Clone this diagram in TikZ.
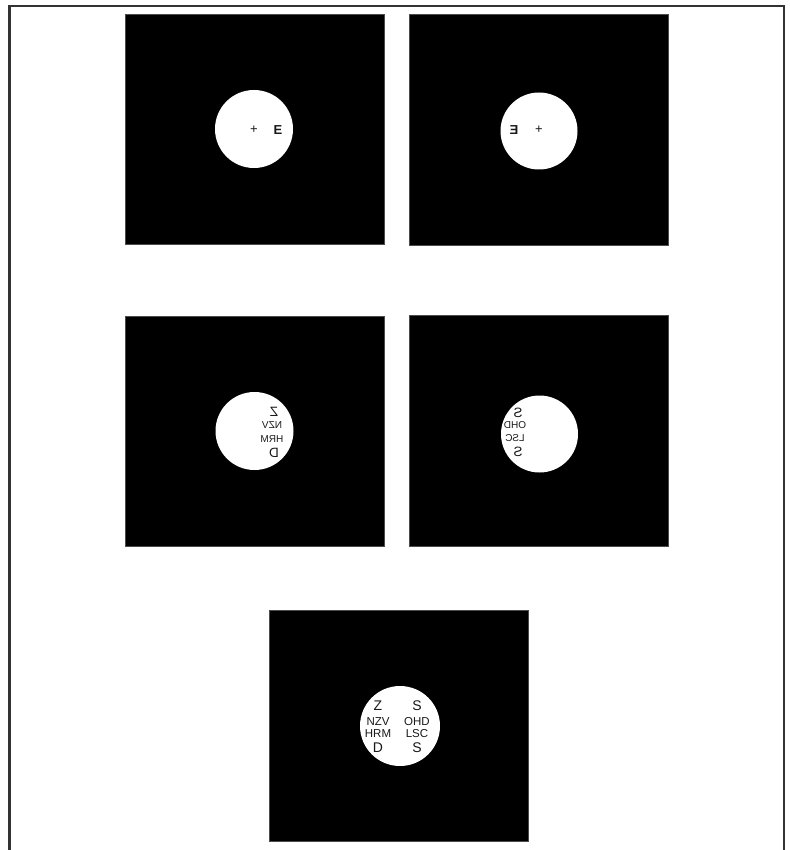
\documentclass[tikz,border=0pt]{standalone}
\usepackage{fontspec}
\setmainfont{Liberation Sans}
\begin{document}
\begin{tikzpicture}[x=1pt,y=-1pt,
  panel/.style={fill=black,draw=black!70,line width=0.6pt},
  pupil/.style={fill=white},
  big/.style={inner sep=0pt,text=black!90,font=\fontsize{14}{14}\selectfont},
  small/.style={inner sep=0pt,text=black!90,font=\fontsize{11.5}{11.5}\selectfont},
  mbig/.style={inner sep=0pt,text=black!90,font=\fontsize{13.5}{13.5}\selectfont},
  msmall/.style={inner sep=0pt,text=black!90,font=\fontsize{10}{10}\selectfont},
  plusmark/.style={inner sep=0pt,text=black!90,font=\fontsize{13}{13}\selectfont},
  eletter/.style={inner sep=0pt,text=black!90,font=\bfseries\fontsize{13}{13}\selectfont},
  frameline/.style={draw=black!80,line width=2.5pt}]
\useasboundingbox (0,0) rectangle (789,850);
\fill[white] (0,0) rectangle (789,850);
% frame
\draw[frameline] (9.5,850) -- (9.5,6) -- (784,6) -- (784,850);
% panels
\draw[panel] (125,14) rectangle (384,244);
\draw[panel] (409,14) rectangle (668,245);
\draw[panel] (125,316) rectangle (384,546);
\draw[panel] (409,315) rectangle (668,546);
\draw[panel] (269,610) rectangle (528,841);
% pupils
\fill[pupil] (254,129) circle (39);
\fill[pupil] (539,131) circle (38.5);
\fill[pupil] (254.5,431) circle (39);
\fill[pupil] (539.5,434) circle (38.5);
\fill[pupil] (400,726) circle (40);
% top left
\node[plusmark] (tlplus) at (254,130) {+};
\node[eletter] (tlE) at (278,130) {E};
% top right
\node[plusmark] (trplus) at (539,130) {+};
\node[eletter] (trE) at (514,130) {\reflectbox{E}};
% middle left (mirrored)
\node[mbig] (mlZ) at (274,412) {\reflectbox{Z}};
\node[msmall] (mlNZV) at (272,425) {\reflectbox{NZV}};
\node[msmall] (mlHRM) at (272,439) {\reflectbox{HRM}};
\node[mbig] (mlD) at (274,453) {\reflectbox{D}};
% middle right (mirrored)
\node[mbig] (mrS1) at (518,413) {\reflectbox{S}};
\node[msmall] (mrOHD) at (515,425) {\reflectbox{OHD}};
\node[msmall] (mrLSC) at (515,438) {\reflectbox{LSC}};
\node[mbig] (mrS2) at (518,452) {\reflectbox{S}};
% bottom
\node[big] (bZ) at (378,706) {Z};
\node[big] (bS1) at (417,706) {S};
\node[small] (bNZV) at (378,722) {NZV};
\node[small] (bOHD) at (417,722) {OHD};
\node[small] (bHRM) at (378,734) {HRM};
\node[small] (bLSC) at (417,734) {LSC};
\node[big] (bD) at (378,748) {D};
\node[big] (bS2) at (417,748) {S};
\end{tikzpicture}
\end{document}
